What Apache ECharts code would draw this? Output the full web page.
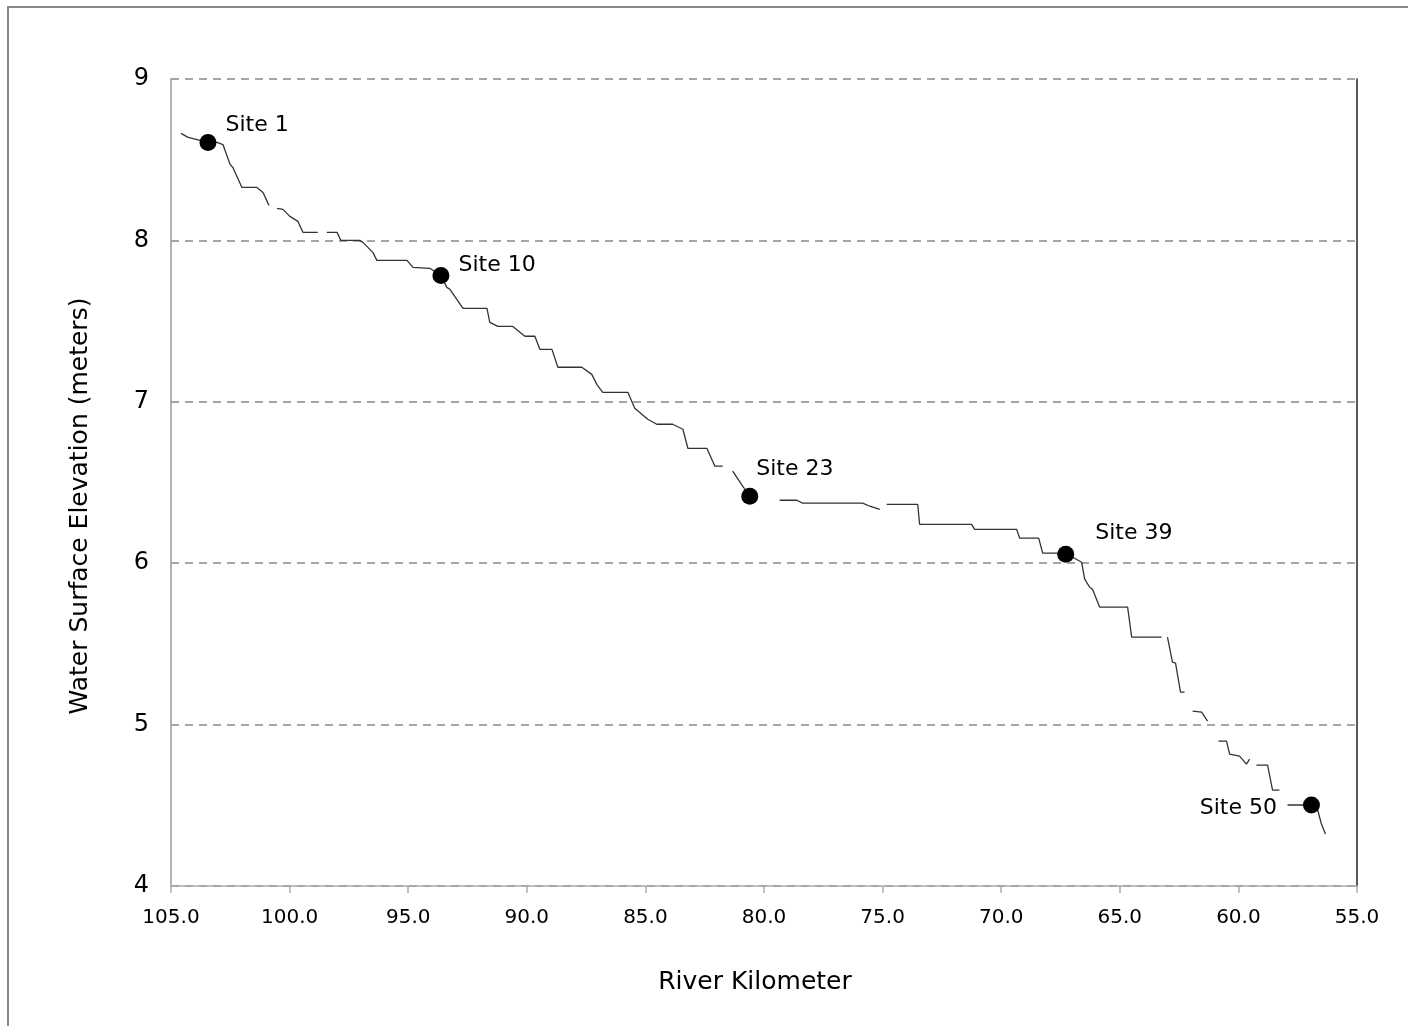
<!DOCTYPE html>
<html>
<head>
<meta charset="utf-8">
<script src="https://cdn.jsdelivr.net/npm/echarts@6/dist/echarts.min.js"></script>
<style>
  html, body { margin: 0; padding: 0; background: #fff; }
  #chart { width: 1408px; height: 1026px; }
</style>
</head>
<body>
<div id="chart"></div>
<script>
// water surface profile, broken into the pieces the reference draws
const seg1 = [[104.58, 8.663], [104.28, 8.638], [103.44, 8.607], [103.06, 8.607], [102.81, 8.594],
  [102.51, 8.471], [102.39, 8.452], [102.01, 8.328], [101.38, 8.328], [101.12, 8.297], [100.87, 8.217]];
const seg2 = [[100.53, 8.198], [100.28, 8.192], [99.99, 8.149], [99.65, 8.118], [99.44, 8.050], [98.81, 8.050]];
const seg3 = [[98.43, 8.050], [98.00, 8.050], [97.84, 8.000], [97.04, 8.000], [96.91, 7.988], [96.49, 7.926],
  [96.32, 7.876], [95.05, 7.876], [94.80, 7.833], [94.09, 7.827], [93.62, 7.783], [93.37, 7.709],
  [93.24, 7.697], [92.69, 7.579], [91.68, 7.579], [91.56, 7.492], [91.22, 7.467], [90.59, 7.467],
  [90.08, 7.406], [89.66, 7.406], [89.45, 7.325], [88.94, 7.325], [88.69, 7.214], [87.68, 7.214],
  [87.26, 7.170], [87.05, 7.108], [86.80, 7.059], [85.74, 7.059], [85.45, 6.960], [84.90, 6.892],
  [84.52, 6.861], [83.85, 6.861], [83.42, 6.830], [83.21, 6.712], [82.41, 6.712], [82.07, 6.601],
  [81.74, 6.601]];
const seg4 = [[81.32, 6.570], [80.90, 6.477], [80.60, 6.415]];
const seg5 = [[79.34, 6.390], [78.62, 6.390], [78.37, 6.372], [75.84, 6.372], [75.54, 6.353], [75.12, 6.334]];
const seg6 = [[74.83, 6.365], [73.52, 6.365], [73.44, 6.241], [71.25, 6.241], [71.12, 6.210], [69.35, 6.210],
  [69.22, 6.155], [68.42, 6.155], [68.25, 6.062], [67.28, 6.062], [66.61, 6.006], [66.48, 5.901],
  [66.27, 5.851], [66.15, 5.839], [65.85, 5.728], [64.67, 5.728], [64.50, 5.542], [63.24, 5.542]];
const seg7 = [[62.99, 5.542], [62.78, 5.387], [62.65, 5.381], [62.44, 5.201], [62.27, 5.201]];
const seg8 = [[61.93, 5.084], [61.55, 5.077], [61.30, 5.022]];
const seg9 = [[60.84, 4.898], [60.50, 4.898], [60.37, 4.817], [59.95, 4.805], [59.66, 4.755], [59.53, 4.786]];
const seg10 = [[59.24, 4.749], [58.77, 4.749], [58.56, 4.594], [58.27, 4.594]];
const seg11 = [[57.93, 4.502], [57.30, 4.502], [56.92, 4.502], [56.67, 4.477], [56.50, 4.384], [56.33, 4.322]];
const segments = [seg1, seg2, seg3, seg4, seg5, seg6, seg7, seg8, seg9, seg10, seg11];

const siteNames = ['Site 1', 'Site 10', 'Site 23', 'Site 39', 'Site 50'];
const siteKm = [103.44, 93.62, 80.60, 67.28, 56.92];
const siteElev = [8.607, 7.783, 6.415, 6.055, 4.502];

const xTicks = [55, 60, 65, 70, 75, 80, 85, 90, 95, 100, 105];
const yTicks = [4, 5, 6, 7, 8, 9];

const FONT = 'DejaVu Sans';

// join pieces with a break so the line shows its gaps
const profile = [];
segments.forEach((s, i) => {
  if (i > 0) profile.push([s[0][0], '-']);
  s.forEach(p => profile.push(p));
});

const labelSpots = [
  { position: [26, -9], align: 'left' },
  { position: [26, -2], align: 'left' },
  { position: [15, -18], align: 'left' },
  { position: [38, -13], align: 'left' },
  { position: [-26, 12], align: 'right' }
];
const sites = siteNames.map((n, i) => ({
  name: n,
  value: [siteKm[i], siteElev[i]],
  label: {
    show: true, formatter: n, position: labelSpots[i].position,
    align: labelSpots[i].align, verticalAlign: 'middle',
    fontFamily: FONT, fontSize: 22, color: '#000'
  }
}));

const chart = echarts.init(document.getElementById('chart'), null, { renderer: 'canvas' });
chart.setOption({
  animation: false,
  backgroundColor: '#fff',
  grid: { left: 171, right: 51, top: 79, bottom: 140 },
  xAxis: {
    type: 'value', inverse: true, min: xTicks[0], max: xTicks[xTicks.length - 1], interval: 5,
    axisLine: { lineStyle: { color: '#aaa', width: 1.5 } },
    axisTick: { show: true, inside: false, length: 7, lineStyle: { color: '#aaa', width: 1.5 } },
    axisLabel: { formatter: v => v.toFixed(1), fontFamily: FONT, fontSize: 20, color: '#000', margin: 22 },
    splitLine: { show: false }
  },
  yAxis: [{
    type: 'value', min: yTicks[0], max: yTicks[yTicks.length - 1], interval: 1,
    axisLine: { show: true, lineStyle: { color: '#999', width: 1.5 } },
    axisTick: { show: false },
    axisLabel: { fontFamily: FONT, fontSize: 24, color: '#000', margin: 22, padding: [8, 0, 0, 0] },
    splitLine: { show: true, lineStyle: { color: '#888', width: 1.5, type: [8, 6] } }
  }, {
    type: 'value', position: 'right', min: 4, max: 9,
    axisLine: { show: true, lineStyle: { color: '#222', width: 1.5 } },
    axisTick: { show: false }, axisLabel: { show: false }, splitLine: { show: false }
  }],
  graphic: [
    { type: 'rect', shape: { x: 8, y: 7, width: 1440, height: 1060 },
      style: { fill: 'none', stroke: '#888', lineWidth: 2 }, silent: true, z: -1 },
    { type: 'text', x: 80, y: 506, rotation: Math.PI / 2,
      style: { text: 'Water Surface Elevation (meters)', font: '25px "DejaVu Sans"', fill: '#000',
        align: 'center', verticalAlign: 'middle' } },
    { type: 'text', x: 755, y: 982,
      style: { text: 'River Kilometer', font: '25px "DejaVu Sans"', fill: '#000',
        align: 'center', verticalAlign: 'middle' } }
  ],
  series: [{
    type: 'line', data: profile, showSymbol: false, connectNulls: false,
    lineStyle: { color: '#333', width: 1.3 }, z: 2
  }, {
    type: 'scatter', data: sites, symbol: 'circle', symbolSize: 17,
    itemStyle: { color: '#000', opacity: 1 }, z: 3
  }]
});
</script>
</body>
</html>
